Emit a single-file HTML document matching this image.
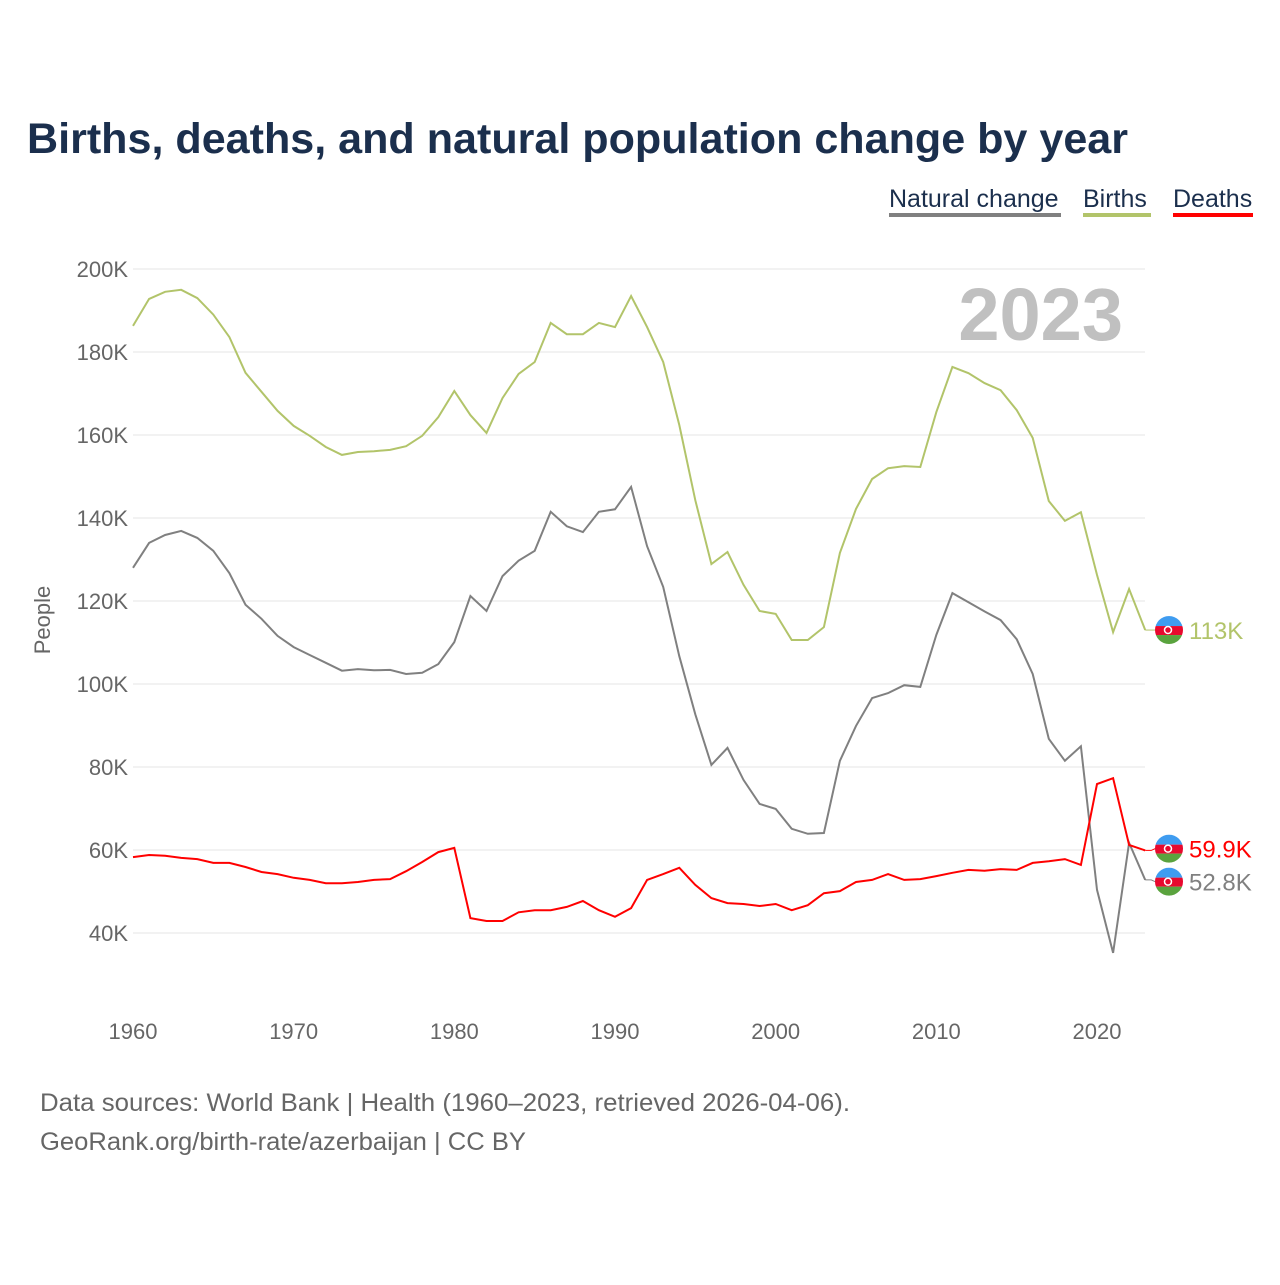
<!DOCTYPE html>
<html><head><meta charset="utf-8"><style>
body{margin:0;background:#fff;font-family:"Liberation Sans",sans-serif;}
svg text{font-family:"Liberation Sans",sans-serif;}
</style></head><body>
<svg id="c" width="1280" height="1280" viewBox="0 0 1280 1280">
<text x="27" y="153" font-size="43" font-weight="bold" fill="#1b2f4d" textLength="1101" lengthAdjust="spacingAndGlyphs">Births, deaths, and natural population change by year</text>
<g>
<text x="889" y="207" font-size="25" fill="#1b2f4d">Natural change</text>
<rect x="889" y="213" width="172" height="4" fill="#808080"/>
<text x="1083" y="207" font-size="25" fill="#1b2f4d">Births</text>
<rect x="1083" y="213" width="68" height="4" fill="#b2c46a"/>
<text x="1173" y="207" font-size="25" fill="#1b2f4d">Deaths</text>
<rect x="1173" y="213" width="80" height="4" fill="#ff0000"/>
</g>
<text x="1123" y="340" font-size="74" font-weight="bold" fill="#c0c0c0" text-anchor="end">2023</text>
<text transform="translate(50,620) rotate(-90)" font-size="22" fill="#666" text-anchor="middle">People</text>
<g id="grid"></g><g id="lines"></g><g id="ends"></g>
<text x="40" y="1111" font-size="25" fill="#666" textLength="810" lengthAdjust="spacingAndGlyphs">Data sources: World Bank | Health (1960–2023, retrieved 2026-04-06).</text>
<text x="40" y="1150" font-size="25" fill="#666" textLength="486" lengthAdjust="spacingAndGlyphs">GeoRank.org/birth-rate/azerbaijan | CC BY</text>
</svg>
<script>
const years=[];for(let y=1960;y<=2023;y++)years.push(y);
const yTicks=[40,60,80,100,120,140,160,180,200];
const xTicks=[1960,1970,1980,1990,2000,2010,2020];
const births=[186.3,192.8,194.5,195,193,189,183.6,175,170.4,165.8,162.2,159.8,157.1,155.2,155.9,156.1,156.4,157.3,159.8,164.3,170.6,164.8,160.5,168.9,174.7,177.6,187,184.3,184.3,187,186,193.5,186,177.6,162.4,144.3,128.9,131.8,123.9,117.6,116.9,110.6,110.6,113.7,131.6,142.2,149.4,152,152.5,152.3,165.5,176.4,174.9,172.5,170.8,166,159.3,144.1,139.3,141.4,126.3,112.5,122.9,113];
const deaths=[58.3,58.8,58.6,58.1,57.8,56.9,56.9,55.9,54.7,54.2,53.3,52.8,52,52,52.3,52.8,53,54.9,57.1,59.5,60.5,43.6,42.9,42.9,45,45.5,45.5,46.3,47.7,45.5,43.9,46,52.8,54.2,55.7,51.6,48.4,47.2,47,46.5,47,45.5,46.7,49.6,50.1,52.3,52.8,54.2,52.8,53,53.7,54.5,55.2,55,55.4,55.2,56.9,57.3,57.8,56.4,75.9,77.3,61.2,59.9];
const natural=[128,134,135.9,136.9,135.2,132.1,126.7,119.1,115.7,111.6,108.9,107,105.1,103.2,103.6,103.3,103.4,102.4,102.7,104.8,110.1,121.2,117.6,126,129.7,132.1,141.5,138,136.6,141.5,142.1,147.5,133.2,123.4,106.7,92.7,80.5,84.6,76.9,71.1,69.9,65.1,63.9,64.1,81.5,89.9,96.6,97.8,99.7,99.3,111.8,121.9,119.7,117.5,115.4,110.8,102.4,86.8,81.5,85,50.4,35.2,61.7,52.8];
const endLabels=["113K","59.9K","52.8K"];
const NS="http://www.w3.org/2000/svg";
const X=y=>133+(y-1960)*(964/60);
const Y=v=>269+(200-v)*4.15;
function mk(t,a,p){const e=document.createElementNS(NS,t);for(const k in a)e.setAttribute(k,a[k]);p.appendChild(e);return e;}
const grid=document.getElementById('grid');
yTicks.forEach(v=>{
 const l=mk('line',{x1:133,x2:1145,y1:Y(v),y2:Y(v),stroke:'#e6e6e6','stroke-width':1},grid);
 
 
 const t=mk('text',{x:128,y:Y(v)+8,'font-size':22,fill:'#666','text-anchor':'end'},grid);
 t.textContent=v+'K';
 
 
});
xTicks.forEach(y=>{
 const t=mk('text',{x:X(y),y:1039,'font-size':22,fill:'#666','text-anchor':'middle'},grid);
 t.textContent=y;
 
 
});
const lines=document.getElementById('lines');
const series=[[natural,'#808080','natural-change-line'],[births,'#b2c46a','births-line'],[deaths,'#ff0000','deaths-line']];
series.forEach(([d,c,n])=>{
 const p=mk('path',{d:d.map((v,i)=>(i?'L':'M')+X(years[i]).toFixed(1)+','+Y(v).toFixed(1)).join(''),fill:'none',stroke:c,'stroke-width':2},lines);
 
 
});
const ends=document.getElementById('ends');
const endSeries=[[births,'#b2c46a',0,'births'],[deaths,'#ff0000',0,'deaths'],[natural,'#808080',0,'natural-change']];
const last=years.length-1;
const ly=[Y(births[last]),Y(deaths[last]),Y(natural[last])];
if(ly[2]-ly[1]<32){const m=(ly[1]+ly[2])/2;ly[1]=m-16.5;ly[2]=m+16.5;}
endSeries.forEach(([d,c,_,n],i)=>{
 const yy=ly[i],xe=X(years[last]);
 mk('polyline',{points:`${xe},${Y(d[last])} ${xe+6},${Y(d[last])} ${xe+10},${yy} ${1160},${yy}`,fill:'none',stroke:c,'stroke-width':1},ends);
 const g=mk('g',{},ends);
 
 
 const cid='fc'+i;
 const cp=mk('clipPath',{id:cid},g);mk('circle',{cx:1169,cy:yy,r:14},cp);
 const gg=mk('g',{'clip-path':`url(#${cid})`},g);
 mk('rect',{x:1155,y:yy-14,width:28,height:10,fill:'#3f9cf0'},gg);
 mk('rect',{x:1155,y:yy-4,width:28,height:9,fill:'#e8092e'},gg);
 mk('rect',{x:1155,y:yy+5,width:28,height:10,fill:'#5aa33e'},gg);
 mk('circle',{cx:1168,cy:yy,r:3.5,fill:'none',stroke:'#fff','stroke-width':1.5},gg);
 const t=mk('text',{x:1189,y:yy+9,'font-size':24,fill:c},ends);
 t.textContent=endLabels[i];
 
 
});
</script>
</body></html>
